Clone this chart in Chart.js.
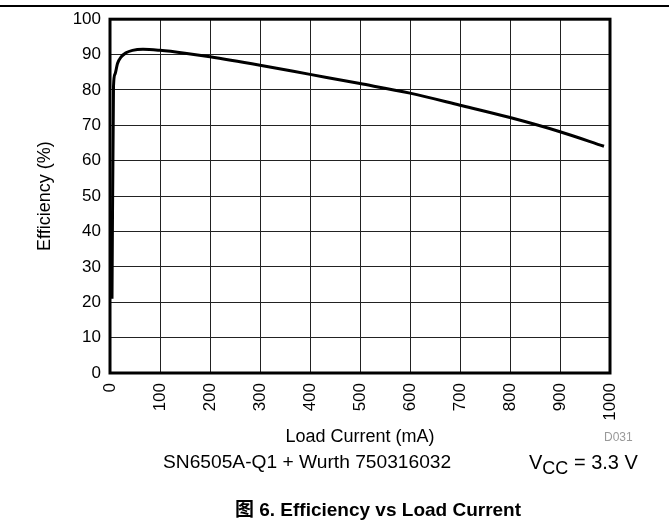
<!DOCTYPE html>
<html>
<head>
<meta charset="utf-8">
<script src="https://cdn.jsdelivr.net/npm/chart.js@4.4.0/dist/chart.umd.min.js"></script>
<style>
  body { margin: 0; background: #fff; font-family: "Liberation Sans", Arial, sans-serif; }
  #wrap { position: relative; width: 669px; height: 523px; }
  #topRule { position: absolute; left: 0; top: 5px; width: 669px; height: 2px; background: #000; }
  .note { position: absolute; white-space: nowrap; color: #000; line-height: 22px; }
  .note sub { font-size: 0.9em; vertical-align: -0.3em; line-height: 0; }
</style>
</head>
<body>
<div id="wrap">
  <canvas id="canvas" width="669" height="523"></canvas>
  <div id="topRule"></div>
  <div class="note" id="d031" style="left:604px; top:426px; font-size:12px; color:#999;">D031</div>
  <div class="note" id="device" style="left:163px; top:451px; font-size:19.2px;">SN6505A-Q1 + Wurth 750316032</div>
  <div class="note" id="vcc" style="left:529px; top:451px; font-size:20px;">V<sub>CC</sub> = 3.3 V</div>
  <div class="note" id="caption" style="left:0; width:756px; text-align:center; top:499px; font-size:19px; font-weight:bold; font-family:'Liberation Sans','Noto Sans CJK SC',sans-serif;">图 6. Efficiency vs Load Current</div>
</div>
<script>
// values
let loadCurrent = [4, 7, 10, 15, 22, 32, 45, 66, 100, 150, 200, 300, 400, 500, 600, 700, 800, 900, 988];
let efficiency = [21, 81, 84.5, 87.5, 89.3, 90.5, 91.2, 91.5, 91.2, 90.4, 89.4, 87.0, 84.4, 81.8, 79.1, 75.7, 72.2, 68.2, 64.1];

let xTicks = [0, 100, 200, 300, 400, 500, 600, 700, 800, 900, 1000];
let yTicks = [0, 10, 20, 30, 40, 50, 60, 70, 80, 90, 100];

let points = loadCurrent.map((x, i) => ({ x: x, y: efficiency[i] }));

// thick frame round the plot area
let frameBox = {
  id: 'frameBox',
  afterDatasetsDraw(chart) {
    let a = chart.chartArea;
    let ctx = chart.ctx;
    ctx.save();
    ctx.strokeStyle = '#000';
    ctx.lineWidth = 3;
    ctx.strokeRect(a.left, a.top, a.right - a.left, a.bottom - a.top);
    ctx.restore();
  }
};

let canvas = document.getElementById('canvas');

new Chart(canvas, {
  type: 'line',
  data: {
    datasets: [{
      data: points,
      borderColor: '#000',
      borderWidth: 3,
      pointRadius: 0,
      fill: false,
      cubicInterpolationMode: 'monotone'
    }]
  },
  options: {
    responsive: false,
    animation: false,
    layout: { padding: { left: 34, top: 19, right: 59, bottom: 75 } },
    plugins: { legend: { display: false }, tooltip: { enabled: false } },
    scales: {
      x: {
        type: 'linear',
        min: 0,
        max: 1000,
        afterBuildTicks: scale => { scale.ticks = xTicks.map(v => ({ value: v })); },
        afterFit: scale => { scale.height = 75; },
        ticks: {
          autoSkip: false,
          minRotation: 90,
          maxRotation: 90,
          padding: 10,
          color: '#000',
          font: { family: 'Liberation Sans', size: 17 },
          callback: v => String(v)
        },
        grid: { color: '#222', lineWidth: 1, drawTicks: false },
        border: { display: false },
        title: {
          display: true,
          text: 'Load Current (mA)',
          color: '#000',
          padding: 0,
          font: { family: 'Liberation Sans', size: 18 }
        }
      },
      y: {
        min: 0,
        max: 100,
        afterBuildTicks: scale => { scale.ticks = yTicks.map(v => ({ value: v })); },
        afterFit: scale => { scale.width = 76; },
        ticks: {
          padding: 9,
          color: '#000',
          font: { family: 'Liberation Sans', size: 17 },
          callback: v => String(v)
        },
        grid: { color: '#222', lineWidth: 1, drawTicks: false },
        border: { display: false },
        title: {
          display: true,
          text: 'Efficiency (%)',
          color: '#000',
          padding: 0,
          font: { family: 'Liberation Sans', size: 18 }
        }
      }
    }
  },
  plugins: [frameBox]
});
</script>
</body>
</html>
